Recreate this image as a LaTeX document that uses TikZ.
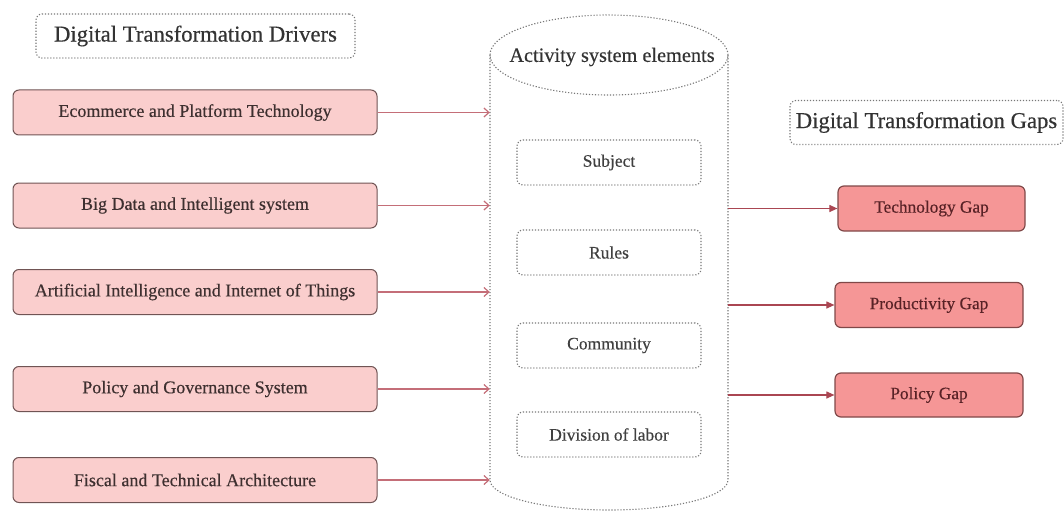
\documentclass[tikz,border=0pt]{standalone}
\usepackage{fontspec}
\setmainfont{Liberation Serif}[FakeBold=0.4]
\usetikzlibrary{arrows.meta}
\definecolor{drvfill}{RGB}{250,206,205}
\definecolor{drvline}{RGB}{112,84,84}
\definecolor{gapfill}{RGB}{245,150,150}
\definecolor{gapline}{RGB}{128,72,72}
\definecolor{txt}{RGB}{62,48,48}
\definecolor{gaptxt}{RGB}{88,34,38}
\definecolor{dotline}{RGB}{120,120,120}
\definecolor{inarrow}{RGB}{196,110,120}
\definecolor{outarrow}{RGB}{170,70,82}
\tikzset{
  dotbox/.style={draw=dotline, line width=1.1pt, dash pattern=on 1.2pt off 1.8pt, rounded corners=6pt},
  titlebox/.style={dotbox, text=black!80, font=\fontsize{22.7}{26}\selectfont, minimum height=44pt},
  elembox/.style={dotbox, text=black!75, font=\fontsize{17.5}{20}\selectfont, minimum width=184pt, minimum height=45pt},
  driver/.style={draw=drvline, fill=drvfill, line width=1pt, rounded corners=6pt, text=txt,
    font=\fontsize{18}{20}\selectfont, minimum width=364pt, minimum height=45pt},
  gapbox/.style={draw=gapline, fill=gapfill, line width=1.2pt, rounded corners=6pt, text=gaptxt,
    font=\fontsize{17.3}{20}\selectfont, minimum width=187pt, minimum height=45pt},
  inlink/.style={draw=inarrow, line width=1.2pt, -{Straight Barb[length=5pt,width=9pt]}},
  outlink/.style={draw=outarrow, line width=1.1pt, -{Triangle[length=8pt,width=7pt]}},
}
\begin{document}
\begin{tikzpicture}[x=1pt,y=-1pt]
\useasboundingbox (0,0) rectangle (1064,513);

% section titles
\node[titlebox, minimum width=319pt] (drvtitle) at (195.5,36) {Digital Transformation Drivers};
\node[titlebox, minimum width=273pt] (gaptitle) at (926.5,122.5) {Digital Transformation Gaps};

% activity system drawn as a dotted cylinder
\draw[draw=dotline, line width=1.1pt, dash pattern=on 1.2pt off 1.8pt]
  (609,55) ellipse [x radius=119pt, y radius=40pt];
\draw[draw=dotline, line width=1.1pt, dash pattern=on 1.2pt off 1.8pt]
  (490,55) -- (490,480) arc [start angle=180, end angle=360, x radius=119pt, y radius=30pt] -- (728,55);
\node[inner sep=0pt, minimum width=238pt, minimum height=495pt] (cyl) at (609,262.5) {};
\node[text=black!80, font=\fontsize{20.3}{24}\selectfont] (cyltitle) at (612,57) {Activity system elements};

% elements of the activity system
\node[elembox] (subject) at (609,162.5) {Subject};
\node[elembox] (rules) at (609,252.5) {Rules};
\node[elembox] (community) at (609,345.5) {Community};
\node[elembox] (division) at (609,434.5) {Division of labor};

% drivers
\node[driver] (d1) at (195,112.5) {Ecommerce and Platform Technology};
\node[driver] (d2) at (195,205.5) {Big Data and Intelligent system};
\node[driver] (d3) at (195,292) {Artificial Intelligence and Internet of Things};
\node[driver] (d4) at (195,389) {Policy and Governance System};
\node[driver] (d5) at (195,480) {Fiscal and Technical Architecture};

% gaps
\node[gapbox] (g1) at (931.5,208.5) {Technology Gap};
\node[gapbox, minimum width=188pt] (g2) at (929,305) {Productivity Gap};
\node[gapbox, minimum width=188pt, minimum height=44pt] (g3) at (929,395) {Policy Gap};

% drivers feed the activity system
\foreach \d in {d1,d2,d3,d4,d5}
  \draw[inlink] (\d.east) -- (\d.east -| cyl.west);

% activity system produces the gaps
\foreach \g in {g1,g2,g3}
  \draw[outlink] (\g.west -| cyl.east) -- (\g.west);
\end{tikzpicture}
\end{document}
